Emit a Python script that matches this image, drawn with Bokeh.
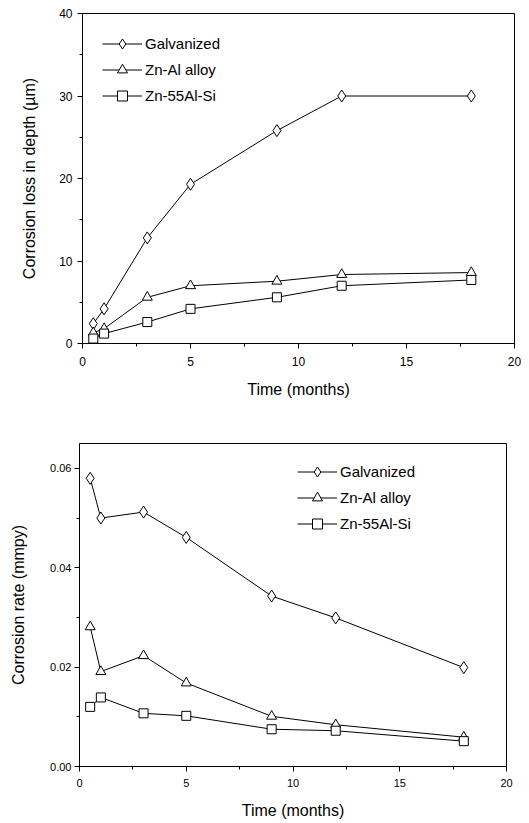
from bokeh.plotting import figure
from bokeh.layouts import column, row
from bokeh.models import Legend, LegendItem, Range1d, PrintfTickFormatter, FixedTicker
from bokeh.embed import file_html
from bokeh.resources import INLINE

# ---- data ----
months = [0.5, 1, 3, 5, 9, 12, 18]
series_names = ["Galvanized", "Zn-Al alloy", "Zn-55Al-Si"]
depth_galv = [2.4, 4.2, 12.8, 19.3, 25.8, 30.0, 30.0]
depth_znal = [1.3, 1.8, 5.6, 7.0, 7.55, 8.36, 8.6]
depth_zn55 = [0.6, 1.2, 2.6, 4.2, 5.6, 7.0, 7.7]
rate_galv = [0.058, 0.050, 0.0512, 0.0461, 0.0343, 0.0299, 0.0199]
rate_znal = [0.0281, 0.0191, 0.0223, 0.0168, 0.0101, 0.0084, 0.0059]
rate_zn55 = [0.0120, 0.0139, 0.0107, 0.0102, 0.0075, 0.0072, 0.0051]

x_ticks = [0, 5, 10, 15, 20]
depth_ticks = [0, 10, 20, 30, 40]
rate_ticks = [0.0, 0.02, 0.04, 0.06]

FONT = "Liberation Sans"
markers = ["diamond", "triangle", "square"]
msizes = [12, 10, 9]


def style_axes(p, tick_size, label_size, xstand, ystand, xlabstand, ylabstand):
    for ax in (p.xaxis[0], p.yaxis[0]):
        ax.axis_line_color = "black"
        ax.major_tick_line_color = "black"
        ax.minor_tick_line_color = "black"
        ax.major_tick_in = 0
        ax.major_tick_out = 5
        ax.minor_tick_in = 0
        ax.minor_tick_out = 3
        ax.major_label_text_font = FONT
        ax.major_label_text_font_size = tick_size
        ax.major_label_text_color = "black"
        ax.axis_label_text_font = FONT
        ax.axis_label_text_font_size = label_size
        ax.axis_label_text_font_style = "normal"
        ax.axis_label_text_color = "black"
    p.xaxis[0].major_label_standoff = xstand
    p.yaxis[0].major_label_standoff = ystand
    p.xaxis[0].axis_label_standoff = xlabstand
    p.yaxis[0].axis_label_standoff = ylabstand
    p.xgrid.visible = False
    p.ygrid.visible = False
    p.outline_line_color = "black"
    p.outline_line_width = 1
    p.outline_line_alpha = 1


def make_fig(height, ys, yr, yticks, ylabel, borders, legend_loc, tick_size, label_size,
             xstand, ystand, xlabstand, ylabstand, yminor_ticks):
    left, right, top, bottom = borders
    p = figure(width=529, height=height, output_backend="svg", toolbar_location=None,
               x_range=Range1d(0, 20), y_range=Range1d(*yr),
               min_border_left=left, min_border_right=right,
               min_border_top=top, min_border_bottom=bottom,
               x_axis_label="Time (months)", y_axis_label=ylabel,
               background_fill_color="white", border_fill_color="white")
    items = []
    for name, y, m, s in zip(series_names, ys, markers, msizes):
        ln = p.line(months, y, line_color="black", line_width=1)
        sc = p.scatter(months, y, marker=m, size=s, fill_color="white",
                       line_color="black", line_width=1)
        items.append(LegendItem(label=name, renderers=[ln, sc]))
    leg = Legend(items=items, location=legend_loc, padding=0, margin=0,
                 spacing=1, glyph_width=40, glyph_height=25, label_height=25,
                 label_standoff=3, label_text_font=FONT, label_text_font_size="15px",
                 label_text_color="black",
                 border_line_alpha=0, background_fill_alpha=0)
    p.add_layout(leg)
    p.xaxis[0].ticker = FixedTicker(ticks=x_ticks, minor_ticks=[2.5, 7.5, 12.5, 17.5])
    p.yaxis[0].ticker = FixedTicker(ticks=yticks, minor_ticks=yminor_ticks)
    style_axes(p, tick_size, label_size, xstand, ystand, xlabstand, ylabstand)
    return p


p1 = make_fig(410, [depth_galv, depth_znal, depth_zn55], (0, 40), depth_ticks,
              "Corrosion loss in depth (µm)", (82, 15, 13, 67), (20, 235),
              "12px", "16px", 8, 5, 12, 18, [5, 15, 25, 35])
p1.yaxis[0].formatter = PrintfTickFormatter(format="%d")
p1.xaxis[0].formatter = PrintfTickFormatter(format="%d")

p2 = make_fig(413, [rate_galv, rate_znal, rate_zn55], (0, 0.065), rate_ticks,
              "Corrosion rate (mmpy)", (79, 23, 33, 57), (218, 230),
              "11px", "16px", 7, 3, 12, 20, [0.01, 0.03, 0.05])
p2.yaxis[0].formatter = PrintfTickFormatter(format="%.2f")
p2.xaxis[0].formatter = PrintfTickFormatter(format="%d")

layout = column(row(p1, spacing=0), row(p2, spacing=0), spacing=0)
open("out.html", "w").write(file_html(layout, INLINE))
